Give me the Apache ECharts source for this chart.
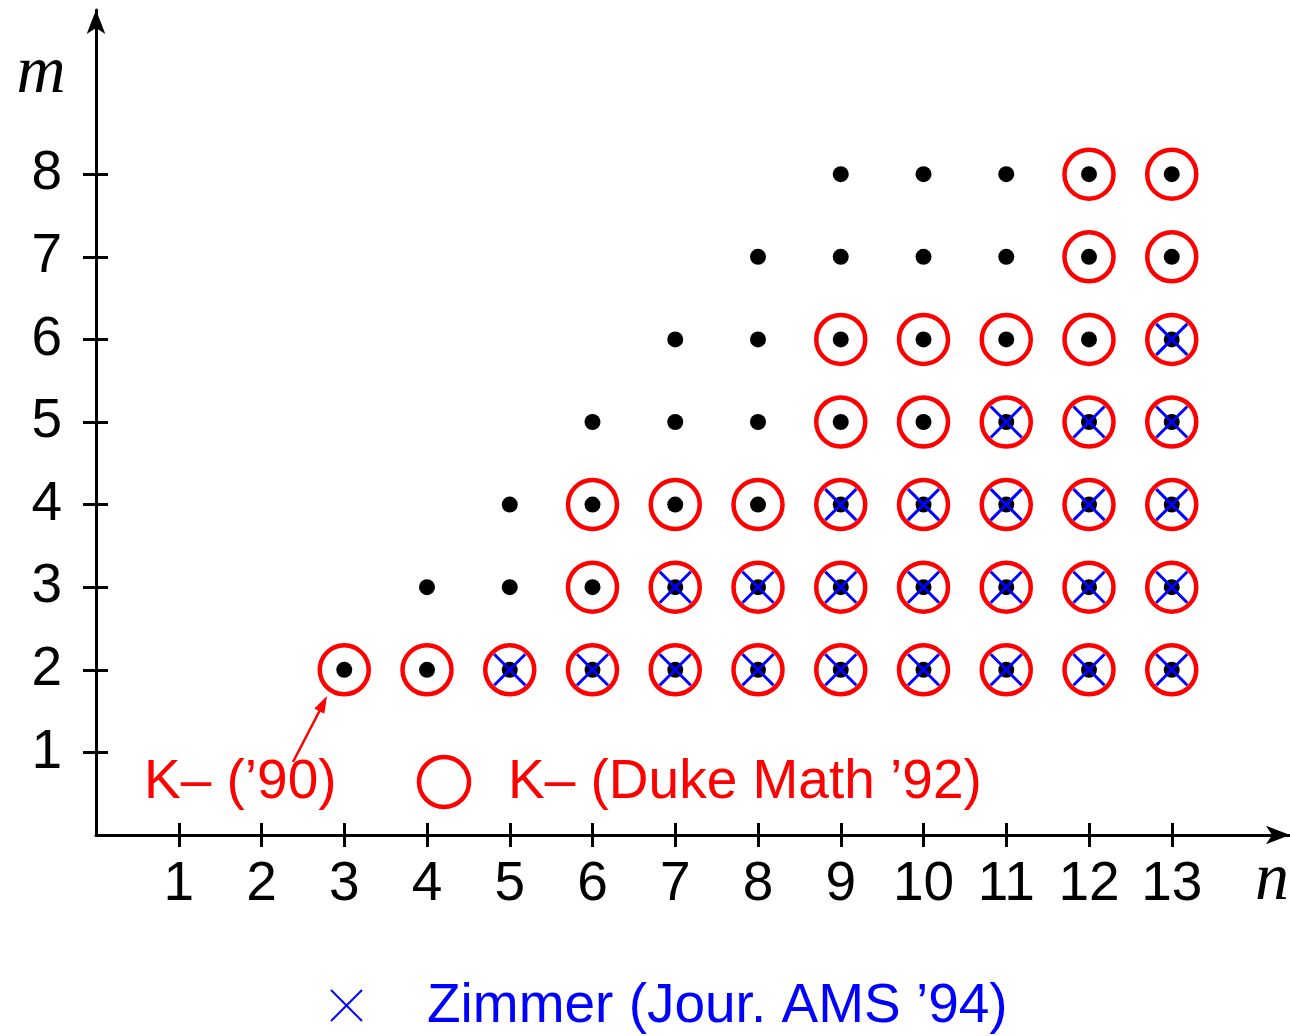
<!DOCTYPE html>
<html>
<head>
<meta charset="utf-8">
<script src="https://cdn.jsdelivr.net/npm/echarts@6/dist/echarts.min.js"></script>
<style>
  html, body { margin: 0; padding: 0; background: #ffffff; }
  #chart { width: 1290px; height: 1036px; }
</style>
</head>
<body>
<div id="chart"></div>
<script>
// Tick labels on both axes
const nTicks = [1, 2, 3, 4, 5, 6, 7, 8, 9, 10, 11, 12, 13];
const mTicks = [1, 2, 3, 4, 5, 6, 7, 8];

// All lattice points (n, m) that are plotted as black dots
const latticePoints = [
  [3, 2], [4, 2], [5, 2], [6, 2], [7, 2], [8, 2], [9, 2], [10, 2], [11, 2], [12, 2], [13, 2],
  [4, 3], [5, 3], [6, 3], [7, 3], [8, 3], [9, 3], [10, 3], [11, 3], [12, 3], [13, 3],
  [5, 4], [6, 4], [7, 4], [8, 4], [9, 4], [10, 4], [11, 4], [12, 4], [13, 4],
  [6, 5], [7, 5], [8, 5], [9, 5], [10, 5], [11, 5], [12, 5], [13, 5],
  [7, 6], [8, 6], [9, 6], [10, 6], [11, 6], [12, 6], [13, 6],
  [8, 7], [9, 7], [10, 7], [11, 7], [12, 7], [13, 7],
  [9, 8], [10, 8], [11, 8], [12, 8], [13, 8]
];

// Cases settled by K– (Duke Math '92): red rings
const duke92Points = [
  [3, 2], [4, 2], [5, 2], [6, 2], [7, 2], [8, 2], [9, 2], [10, 2], [11, 2], [12, 2], [13, 2],
  [6, 3], [7, 3], [8, 3], [9, 3], [10, 3], [11, 3], [12, 3], [13, 3],
  [6, 4], [7, 4], [8, 4], [9, 4], [10, 4], [11, 4], [12, 4], [13, 4],
  [9, 5], [10, 5], [11, 5], [12, 5], [13, 5],
  [9, 6], [10, 6], [11, 6], [12, 6], [13, 6],
  [12, 7], [13, 7],
  [12, 8], [13, 8]
];

// Cases settled by Zimmer (Jour. AMS '94): blue crosses
const zimmer94Points = [
  [5, 2], [6, 2], [7, 2], [8, 2], [9, 2], [10, 2], [11, 2], [12, 2], [13, 2],
  [7, 3], [8, 3], [9, 3], [10, 3], [11, 3], [12, 3], [13, 3],
  [9, 4], [10, 4], [11, 4], [12, 4], [13, 4],
  [11, 5], [12, 5], [13, 5],
  [13, 6]
];

// Plot geometry (pixels); axis lines end at the arrow tips
const ORIGIN_X = 96, ORIGIN_Y = 835;
const UNIT_X = 82.75, UNIT_Y = 82.6;
const X_END = 1290, Y_END = 10;
const xMax = (X_END - ORIGIN_X) / UNIT_X;
const yMax = (ORIGIN_Y - Y_END) / UNIT_Y;

const RED = '#ff0000', BLUE = '#0000ff', BLACK = '#000000';
const SANS = '"Liberation Sans", Arial, Helvetica, sans-serif';
const SERIF = '"Liberation Serif", "Times New Roman", serif';
const FS = 55;

const chart = echarts.init(document.getElementById('chart'), null, { renderer: 'canvas' });

const tickLabel = { fontSize: FS, fontFamily: SANS, color: BLACK };
const arrowSize = [14, 24];

function textEl(x, y, text, fill, font, align) {
  align = align || 'left';
  return {
    type: 'text', x: x, y: y, silent: true,
    style: { text: text, fill: fill, font: font,
             align: align, verticalAlign: 'middle', textAlign: align, textVerticalAlign: 'middle' }
  };
}

const option = {
  animation: false,
  backgroundColor: '#ffffff',
  grid: {
    left: ORIGIN_X,
    top: Y_END,
    width: X_END - ORIGIN_X,
    height: ORIGIN_Y - Y_END,
    containLabel: false
  },
  xAxis: [
    {
      type: 'value', position: 'bottom', min: 0, max: xMax,
      axisLine: { show: true, onZero: false, symbol: ['none', 'arrow'], symbolSize: arrowSize,
                  lineStyle: { color: BLACK, width: 3 } },
      axisTick: { show: true, inside: false, length: 12, customValues: nTicks,
                  lineStyle: { color: BLACK, width: 3 } },
      axisLabel: Object.assign({ show: true, margin: 50, verticalAlign: 'middle', customValues: nTicks }, tickLabel),
      splitLine: { show: false }
    },
    {
      type: 'value', position: 'bottom', min: 0, max: xMax,
      axisLine: { show: false },
      axisTick: { show: true, inside: true, length: 12, customValues: nTicks,
                  lineStyle: { color: BLACK, width: 3 } },
      axisLabel: { show: false },
      splitLine: { show: false }
    }
  ],
  yAxis: [
    {
      type: 'value', position: 'left', min: 0, max: yMax,
      axisLine: { show: true, onZero: false, symbol: ['none', 'arrow'], symbolSize: arrowSize,
                  lineStyle: { color: BLACK, width: 3 } },
      axisTick: { show: true, inside: false, length: 13, customValues: mTicks,
                  lineStyle: { color: BLACK, width: 3 } },
      axisLabel: Object.assign({ show: true, margin: 34, customValues: mTicks }, tickLabel),
      splitLine: { show: false }
    },
    {
      type: 'value', position: 'left', min: 0, max: yMax,
      axisLine: { show: false },
      axisTick: { show: true, inside: true, length: 12, customValues: mTicks,
                  lineStyle: { color: BLACK, width: 3 } },
      axisLabel: { show: false },
      splitLine: { show: false }
    }
  ],
  series: [
    {
      name: 'K– (Duke Math ’92)',
      type: 'scatter',
      data: duke92Points,
      symbol: 'circle',
      symbolSize: 49,
      itemStyle: { color: 'rgba(0,0,0,0)', borderColor: RED, borderWidth: 4.5, opacity: 1 },
      emphasis: { disabled: true },
      silent: true,
      z: 2
    },
    {
      name: 'points',
      type: 'scatter',
      data: latticePoints,
      symbol: 'circle',
      symbolSize: 16,
      itemStyle: { color: BLACK, opacity: 1 },
      emphasis: { disabled: true },
      silent: true,
      z: 3
    },
    {
      name: 'Zimmer (Jour. AMS ’94)',
      type: 'scatter',
      data: zimmer94Points,
      symbol: 'path://M0,0L10,10M10,0L0,10',
      symbolSize: 31,
      itemStyle: { color: 'rgba(0,0,0,0)', borderColor: BLUE, borderWidth: 3, opacity: 1 },
      emphasis: { disabled: true },
      silent: true,
      z: 4
    }
  ],
  graphic: [
    // axis names
    textEl(41, 74, 'm', BLACK, 'italic 68px ' + SERIF, 'center'),
    textEl(1272, 881, 'n', BLACK, 'italic 68px ' + SERIF, 'center'),

    // K– ('90) annotation with arrow to the point (3, 2)
    textEl(144, 783, 'K– (’90)', RED, FS + 'px ' + SANS),
    { type: 'line', silent: true,
      shape: { x1: 293, y1: 762, x2: 320, y2: 710 },
      style: { stroke: RED, lineWidth: 2.5 } },
    { type: 'polygon', silent: true,
      shape: { points: [[327, 696], [324.3, 713.8], [314.3, 708.6]] },
      style: { fill: RED } },

    // legend: red ring
    { type: 'circle', silent: true,
      shape: { cx: 444, cy: 782, r: 25 },
      style: { fill: 'none', stroke: RED, lineWidth: 4.5 } },
    textEl(508, 783, 'K– (Duke Math ’92)', RED, FS + 'px ' + SANS),

    // legend: blue cross
    { type: 'line', silent: true,
      shape: { x1: 331, y1: 990, x2: 362, y2: 1021 },
      style: { stroke: BLUE, lineWidth: 2 } },
    { type: 'line', silent: true,
      shape: { x1: 362, y1: 990, x2: 331, y2: 1021 },
      style: { stroke: BLUE, lineWidth: 2 } },
    textEl(427, 1007, 'Zimmer (Jour. AMS ’94)', BLUE, FS + 'px ' + SANS)
  ]
};

chart.setOption(option);
</script>
</body>
</html>
